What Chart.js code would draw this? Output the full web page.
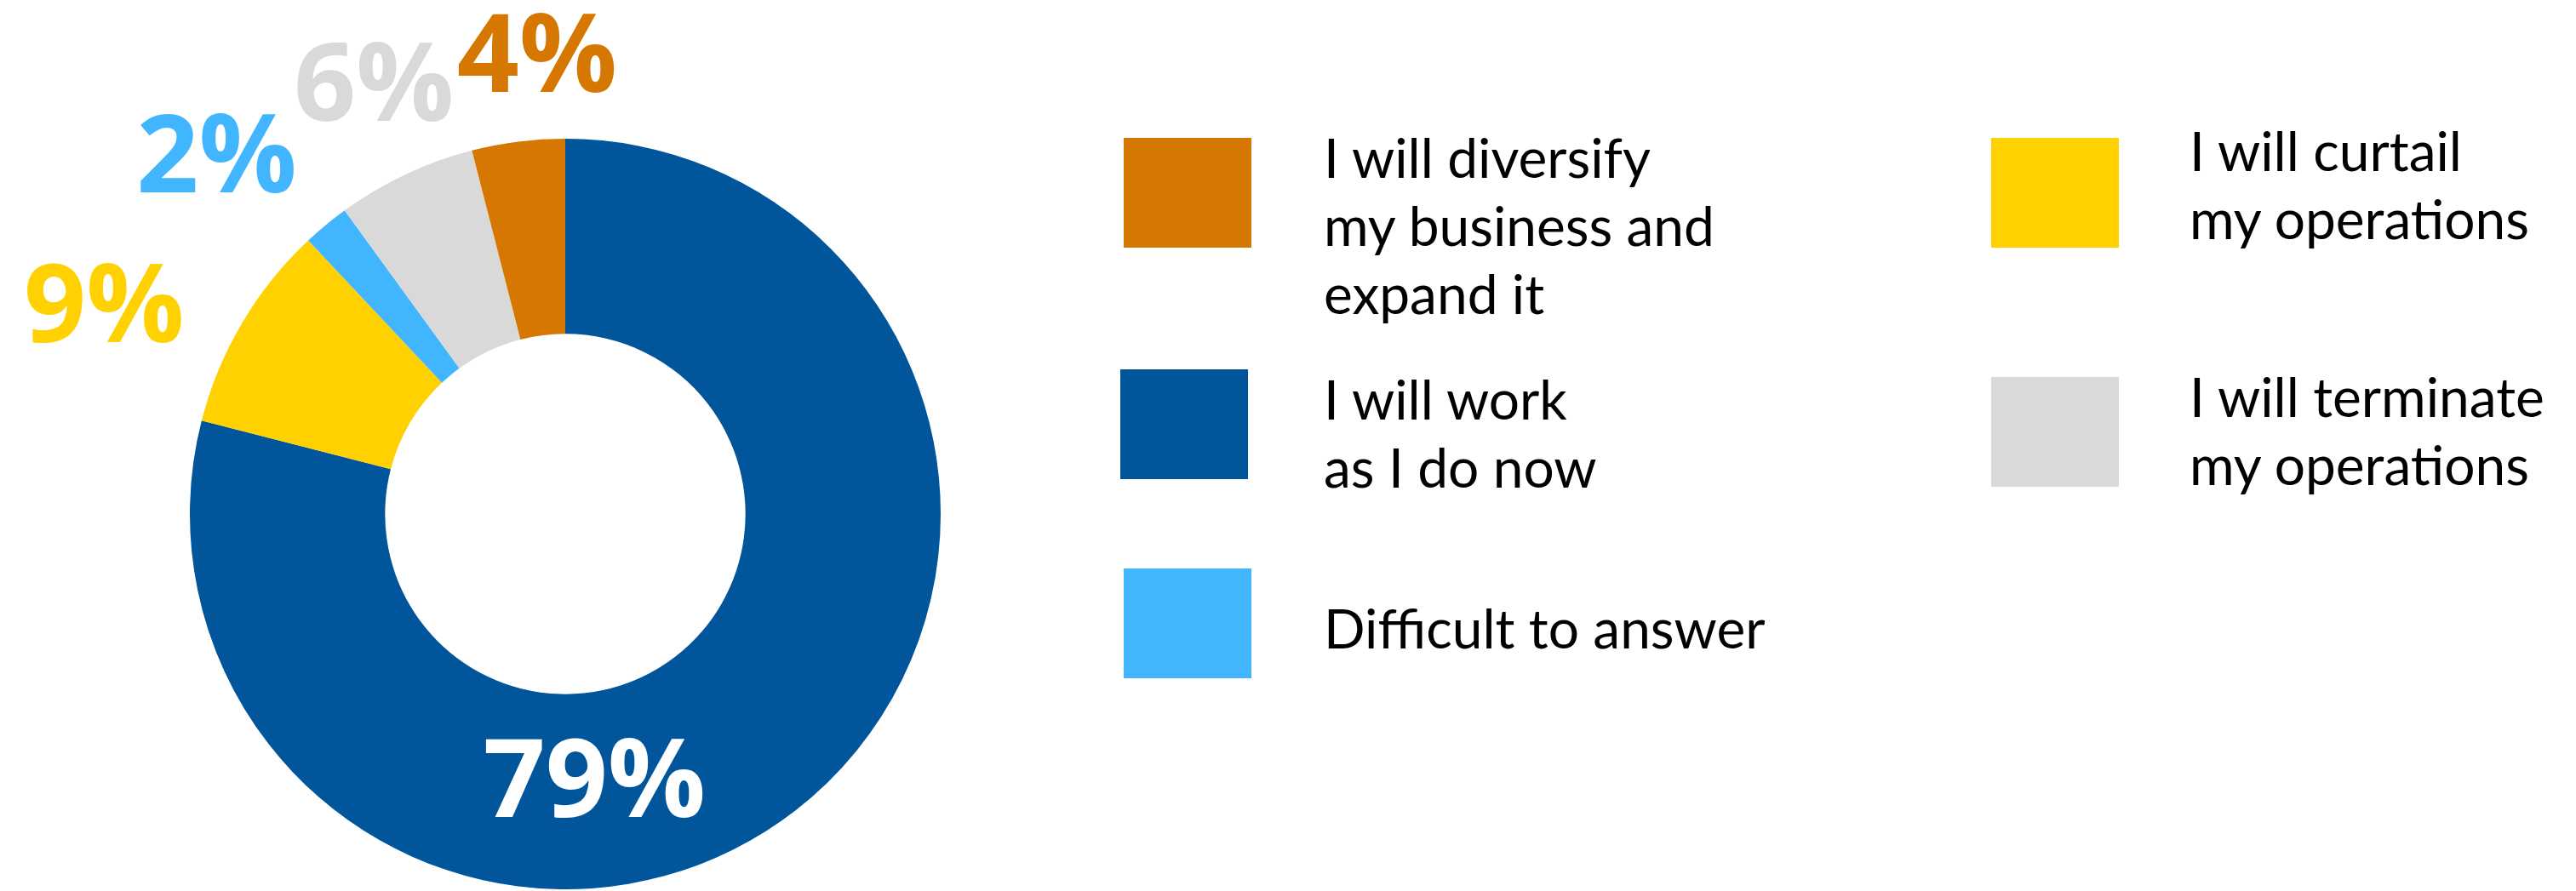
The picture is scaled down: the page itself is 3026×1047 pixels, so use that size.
<!DOCTYPE html>
<html>
<head>
<meta charset="utf-8">
<script src="https://cdn.jsdelivr.net/npm/chart.js@4.4.1/dist/chart.umd.min.js"></script>
<style>
    html, body { margin: 0; padding: 0; background: #fff; }
    #wrap { position: relative; width: 3026px; height: 1047px; overflow: hidden; }
    #chartBox { position: absolute; left: 0; top: 0; width: 1328px; height: 1047px; }
    .swatch { position: absolute; width: 150px; height: 129px; }
    .label {
        position: absolute;
        font-family: Lato, "Open Sans", sans-serif;
        font-weight: 400;
        font-size: 64px;
        line-height: 80px;
        color: #000;
        white-space: pre;
    }
</style>
</head>
<body>
<div id="wrap">
    <div id="chartBox"><canvas id="donaChart"></canvas></div>
    <div id="leyenda"></div>
</div>
<script>
// Datos (en el sentido del reloj, desde arriba)
const categorias = [
    'I will work\nas I do now',
    'I will curtail\nmy operations',
    'Difficult to answer',
    'I will terminate\nmy operations',
    'I will diversify\nmy business and\nexpand it'
];
const porcentajes = [79, 9, 2, 6, 4];
const colores = ['#00559B', '#FFD100', '#41B6FF', '#D9D9D9', '#D57700'];

// orden y posicion de la leyenda (solo estilo)
const ordenLeyenda = [4, 0, 2, 1, 3];
const posLeyenda = [
    { x: 1320, y: 162, tx: 1555, ty: 145 },
    { x: 1316, y: 434, tx: 1555, ty: 429 },
    { x: 1320, y: 668, tx: 1555, ty: 698 },
    { x: 2339, y: 162, tx: 2572, ty: 137 },
    { x: 2339, y: 443, tx: 2572, ty: 426 }
];
// pequeño giro / separacion de cada etiqueta exterior para que no se pisen
const ajusteAngulo = [0, -6, -4.4, 1.3, 3.7];
const ajusteDist = [0, 0, 0, -16, 0];

// ========== LEYENDA ==========
function crearLeyenda() {
    const cont = document.getElementById('leyenda');
    ordenLeyenda.forEach((idx, i) => {
        const p = posLeyenda[i];
        const caja = document.createElement('div');
        caja.className = 'swatch';
        caja.style.left = p.x + 'px';
        caja.style.top = p.y + 'px';
        caja.style.background = colores[idx];
        cont.appendChild(caja);

        const txt = document.createElement('div');
        txt.className = 'label';
        txt.style.left = p.tx + 'px';
        txt.style.top = p.ty + 'px';
        txt.textContent = categorias[idx];
        cont.appendChild(txt);
    });
}

// ========== ETIQUETAS DE PORCENTAJE ==========
const etiquetasPlugin = {
    id: 'etiquetas',
    afterDatasetsDraw(chart) {
        const ctx = chart.ctx;
        const meta = chart.getDatasetMeta(0);
        const fontSize = 128;
        const altoDigito = fontSize * 0.714;
        ctx.save();
        ctx.font = `bold ${fontSize}px "Open Sans"`;
        ctx.textAlign = 'center';
        ctx.textBaseline = 'alphabetic';

        meta.data.forEach((arc, i) => {
            const { x, y, startAngle, endAngle, innerRadius, outerRadius } =
                arc.getProps(['x', 'y', 'startAngle', 'endAngle', 'innerRadius', 'outerRadius'], true);
            const texto = porcentajes[i] + '%';

            if (porcentajes[i] > 50) {
                // etiqueta grande dentro del anillo, abajo
                const a = Math.PI / 2 - 0.11;
                const r = innerRadius + (outerRadius - innerRadius) * 0.44;
                ctx.fillStyle = '#fff';
                ctx.fillText(texto, x + r * Math.cos(a), y + r * Math.sin(a) + altoDigito / 2);
                return;
            }

            const a = (startAngle + endAngle) / 2 + ajusteAngulo[i] * Math.PI / 180;
            const medioAncho = ctx.measureText(texto).width / 2;
            const dist = outerRadius + 50 + ajusteDist[i] +
                Math.abs(Math.cos(a)) * medioAncho + Math.abs(Math.sin(a)) * altoDigito / 2;
            ctx.fillStyle = colores[i];
            ctx.fillText(texto, x + dist * Math.cos(a), y + dist * Math.sin(a) + altoDigito / 2);
        });
        ctx.restore();
    }
};

// ========== GRAFICO ==========
const ctx = document.getElementById('donaChart');
new Chart(ctx, {
    type: 'doughnut',
    data: {
        labels: categorias,
        datasets: [{
            data: porcentajes,
            backgroundColor: colores,
            borderWidth: 0
        }]
    },
    options: {
        responsive: true,
        maintainAspectRatio: false,
        animation: false,
        cutout: '48%',
        layout: { padding: { top: 163, bottom: 2 } },
        plugins: {
            legend: { display: false },
            tooltip: { enabled: false }
        }
    },
    plugins: [etiquetasPlugin]
});

crearLeyenda();
</script>
</body>
</html>
